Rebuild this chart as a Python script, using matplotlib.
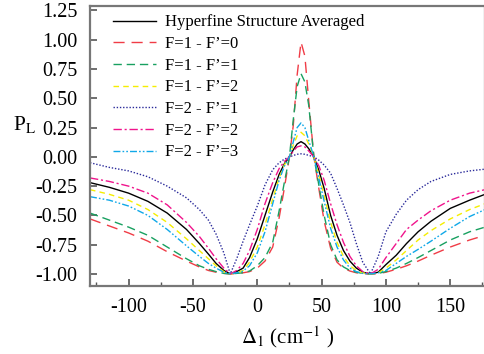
import matplotlib
matplotlib.use('Agg')
import matplotlib.pyplot as plt
from matplotlib.ticker import MultipleLocator, FormatStrFormatter

plt.rcParams['font.family'] = ['Liberation Serif', 'DejaVu Serif']
plt.rcParams['mathtext.fontset'] = 'stix'
plt.rcParams['axes.unicode_minus'] = False

# detuning grid (cm^-1)
delta = [-130, -115, -100, -85, -70, -55, -45, -38, -32, -26, -21, -16, -11, -6, 0, 6,
         12, 17, 21, 25, 28, 31, 34, 37, 40, 44, 48, 52, 57, 62, 67, 72, 77, 82, 88,
         94, 100, 108, 116, 125, 135, 150, 165, 177]

p_avg = [-0.22, -0.26, -0.31, -0.38, -0.48, -0.62, -0.74, -0.83, -0.91, -0.97, -1.0,
         -0.98, -0.95, -0.86, -0.70, -0.50, -0.30, -0.15, -0.06, 0.0, 0.06, 0.11, 0.13,
         0.11, 0.07, 0.0, -0.12, -0.27, -0.50, -0.67, -0.80, -0.89, -0.95, -0.985, -1.0,
         -0.985, -0.92, -0.84, -0.74, -0.64, -0.55, -0.44, -0.37, -0.32]

p_10 = [-0.53, -0.59, -0.65, -0.72, -0.81, -0.89, -0.94, -0.97, -0.985, -0.995, -1.0,
        -0.995, -0.99, -0.98, -0.95, -0.89, -0.77, -0.52, -0.27, 0.0, 0.27, 0.70, 0.98,
        0.86, 0.48, 0.0, -0.28, -0.55, -0.78, -0.90, -0.95, -0.975, -0.99, -0.997, -1.0,
        -0.997, -0.985, -0.96, -0.93, -0.89, -0.84, -0.77, -0.71, -0.67]

p_11 = [-0.48, -0.54, -0.60, -0.67, -0.77, -0.87, -0.93, -0.96, -0.98, -0.995, -1.0,
        -0.995, -0.99, -0.975, -0.93, -0.86, -0.73, -0.46, -0.22, 0.0, 0.32, 0.60, 0.71,
        0.64, 0.44, 0.0, -0.25, -0.50, -0.75, -0.88, -0.94, -0.97, -0.985, -0.995, -1.0,
        -0.995, -0.98, -0.95, -0.91, -0.86, -0.80, -0.71, -0.64, -0.60]

p_12 = [-0.28, -0.32, -0.37, -0.45, -0.56, -0.70, -0.80, -0.87, -0.93, -0.98, -1.0,
        -0.99, -0.97, -0.90, -0.77, -0.58, -0.36, -0.18, -0.07, 0.0, 0.10, 0.18, 0.21,
        0.18, 0.11, 0.0, -0.16, -0.33, -0.56, -0.73, -0.85, -0.93, -0.97, -0.99, -1.0,
        -0.99, -0.95, -0.88, -0.80, -0.71, -0.63, -0.53, -0.45, -0.40]

p_21 = [-0.05, -0.09, -0.12, -0.17, -0.25, -0.35, -0.45, -0.54, -0.66, -0.82, -1.0,
        -0.87, -0.72, -0.58, -0.42, -0.24, -0.11, -0.05, -0.02, 0.0, 0.012, 0.022, 0.026,
        0.022, 0.013, 0.0, -0.03, -0.07, -0.14, -0.27, -0.41, -0.56, -0.74, -0.90, -1.0,
        -0.85, -0.64, -0.49, -0.37, -0.28, -0.21, -0.15, -0.12, -0.105]

p_22 = [-0.18, -0.21, -0.25, -0.31, -0.41, -0.56, -0.68, -0.78, -0.87, -0.95, -1.0,
        -0.97, -0.91, -0.80, -0.62, -0.40, -0.22, -0.10, -0.04, 0.0, 0.05, 0.085, 0.094,
        0.085, 0.05, 0.0, -0.08, -0.20, -0.40, -0.58, -0.73, -0.85, -0.93, -0.98, -1.0,
        -0.96, -0.86, -0.74, -0.62, -0.54, -0.46, -0.37, -0.31, -0.28]

p_23 = [-0.34, -0.37, -0.42, -0.50, -0.62, -0.76, -0.85, -0.91, -0.95, -0.985, -1.0,
        -0.99, -0.975, -0.93, -0.82, -0.64, -0.40, -0.20, -0.08, 0.0, 0.13, 0.25, 0.29,
        0.25, 0.14, 0.0, -0.19, -0.38, -0.61, -0.77, -0.88, -0.95, -0.98, -0.995, -1.0,
        -0.99, -0.97, -0.91, -0.85, -0.79, -0.72, -0.61, -0.51, -0.45]

fig = plt.figure(figsize=(4.85, 3.54), dpi=100)
ax = fig.add_axes([0.1856, 0.193, 0.8144, 0.789])

ax.plot(delta, p_avg, color='black', lw=1.0, label='Hyperfine Structure Averaged')
ax.plot(delta, p_10, color='#f03c46', lw=1.0, dashes=(8, 5), label='F=1 - F\u2019=0')
ax.plot(delta, p_11, color='#18a060', lw=1.0, dashes=(6, 3.5), label='F=1 - F\u2019=1')
ax.plot(delta, p_12, color='#f5ee00', lw=1.0, dashes=(4, 3), label='F=1 - F\u2019=2')
ax.plot(delta, p_21, color='#2a2a9a', lw=1.0, dashes=(1, 1.3), label='F=2 - F\u2019=1')
ax.plot(delta, p_22, color='#f0148c', lw=1.0, dashes=(6, 2, 1.5, 2), label='F=2 - F\u2019=2')
ax.plot(delta, p_23, color='#10a8e8', lw=1.0, dashes=(5, 1.5, 1.2, 1.5, 1.2, 1.5),
        label='F=2 - F\u2019=3')

ax.set_xlim(-130, 177)
ax.set_ylim(-1.1, 1.285)
ax.xaxis.set_major_locator(MultipleLocator(50))
ax.xaxis.set_minor_locator(MultipleLocator(25))
ax.yaxis.set_major_locator(MultipleLocator(0.25))
ax.yaxis.set_major_formatter(FormatStrFormatter('%.2f'))
ax.tick_params(which='both', direction='in', labelsize=14.5, color='#555555')
ax.tick_params(which='major', length=5, width=1.2)
ax.tick_params(which='minor', length=3, width=1.0)
ax.tick_params(axis='x', pad=9)
ax.tick_params(axis='y', pad=9)
for s in ax.spines.values():
    s.set_color('#777777')
    s.set_linewidth(1.6)

ax.set_xlabel(r'$\Delta_1$ (cm$^{-1}$ )', fontsize=15, labelpad=5)
ax.set_ylabel(r'P$_\mathrm{L}$', fontsize=15.5, rotation=0)
ax.yaxis.set_label_coords(-0.165, 0.54)

ax.legend(loc='upper left', bbox_to_anchor=(0.02, 1.025), frameon=False, fontsize=12,
          handlelength=2.6, handletextpad=0.55, labelspacing=0.34)

fig.savefig('out.png', dpi=100)
